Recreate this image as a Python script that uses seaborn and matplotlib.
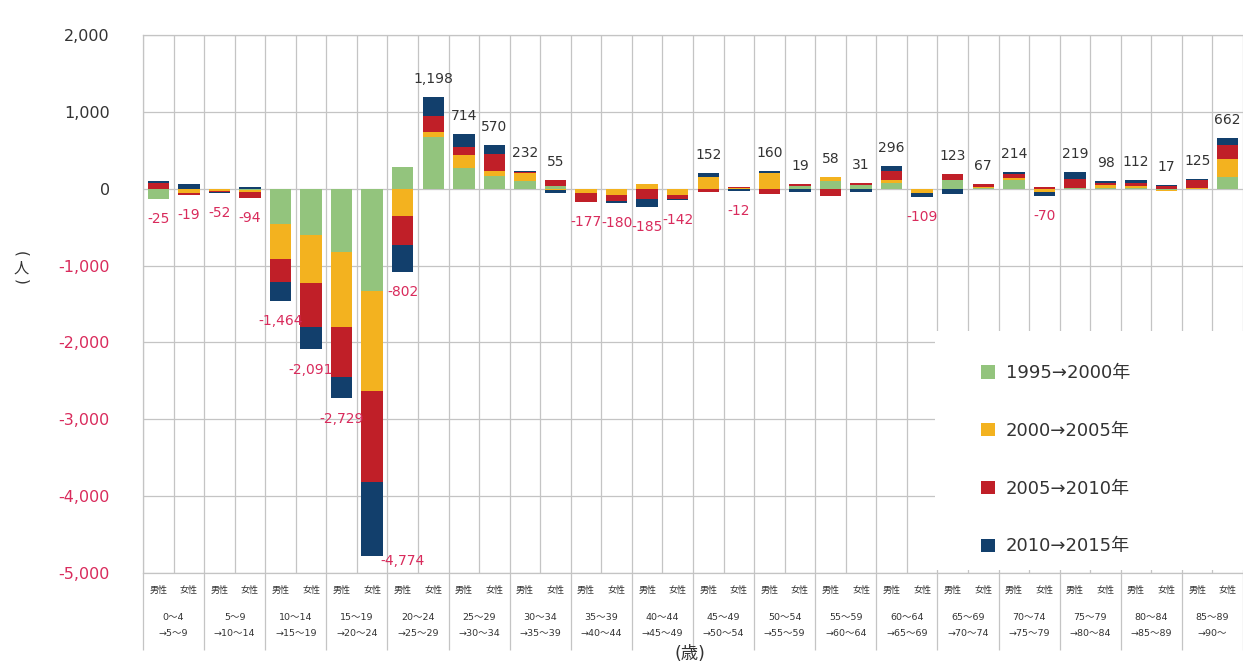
import numpy as np
import pandas as pd
import matplotlib
matplotlib.use("Agg")
import matplotlib.pyplot as plt
import seaborn as sns
from matplotlib.patches import Patch, Rectangle

# ---------------- data ----------------
age_from = ["0～4", "5～9", "10～14", "15～19", "20～24", "25～29", "30～34", "35～39", "40～44",
            "45～49", "50～54", "55～59", "60～64", "65～69", "70～74", "75～79", "80～84", "85～89"]
age_to = ["→5～9", "→10～14", "→15～19", "→20～24", "→25～29", "→30～34", "→35～39", "→40～44", "→45～49",
          "→50～54", "→55～59", "→60～64", "→65～69", "→70～74", "→75～79", "→80～84", "→85～89", "→90～"]
sexes = ["男性", "女性"]
series_names = ["1995→2000年", "2000→2005年", "2005→2010年", "2010→2015年"]

# values per bar (male, female alternating, by age group)
v1995 = [-130, -4, -7, -11, -460, -600, -820, -1325, 280, 675, 265, 165, 105, 30, -5, -2, 0, -5,
         0, -5, -10, 40, 95, 48, 69, -5, 110, 10, 113, -10, 5, 10, 5, -18, 0, 155]
v2000 = [0, -55, -20, -30, -460, -630, -975, -1310, -355, 65, 172, 65, 95, -15, -45, -74, 56, -78,
         156, 12, 210, 0, 58, 0, 43, -50, 0, 15, 32, -38, 5, 40, 30, -17, 10, 228]
v2005 = [80, -20, -10, -78, -300, -565, -650, -1175, -375, 205, 100, 220, 12, 80, -120, -82, -139, -52,
         -47, 8, -62, 20, -95, 22, 120, -4, 82, 42, 43, 20, 112, 30, 43, 40, 98, 180]
v2010 = [25, 60, -15, 25, -244, -296, -284, -964, -352, 253, 177, 120, 20, -40, -7, -22, -102, -7,
         43, -27, 22, -41, 0, -39, 64, -50, -69, 0, 26, -42, 97, 18, 34, 12, 17, 99]

colors = ["#93c47d", "#f3b21f", "#c01f28", "#123f6c"]
neg_color = "#d92b5c"
grid_color = "#c4c4c4"

# ---------------- style ----------------
sns.set_theme(style="white")
plt.rcParams["font.family"] = ["DejaVu Sans", "Noto Sans CJK JP"]

fig = plt.figure(figsize=(12.43, 6.63), dpi=100)
ax = fig.add_axes([143 / 1243, 1 - 573 / 663, 1100 / 1243, (573 - 35) / 663])

bar_ids = [f"{a}{s}" for a in age_from for s in sexes]
series_vals = [v1995, v2000, v2005, v2010]

pos_base = np.zeros(len(bar_ids))
neg_base = np.zeros(len(bar_ids))
for name, vals, col in zip(series_names, series_vals, colors):
    vals = np.asarray(vals, dtype=float)
    bottom = np.where(vals >= 0, pos_base, neg_base)
    sns.barplot(x=bar_ids, y=vals, order=bar_ids, color=col, saturation=1,
                bottom=bottom, width=0.7, errorbar=None, ax=ax, zorder=3,
                linewidth=0)
    pos_base += np.clip(vals, 0, None)
    neg_base += np.clip(vals, None, 0)

totals = np.sum(np.array(series_vals, dtype=float), axis=0)

# ---------------- axes ----------------
ax.set_ylim(-5000, 2000)
ax.set_xlim(-0.5, len(bar_ids) - 0.5)
yt = np.arange(-5000, 2001, 1000)
ax.set_yticks(yt)
ax.set_yticklabels([f"{int(v):,}" for v in yt], fontsize=11.5)
for lab, v in zip(ax.get_yticklabels(), yt):
    lab.set_color(neg_color if v < 0 else "#333333")
ax.set_xticks(np.arange(-0.5, len(bar_ids), 1))
ax.set_xticklabels([])
ax.tick_params(axis="both", length=0)
ax.tick_params(axis="y", pad=24)
ax.set_xlabel("")
ax.set_ylabel("")
ax.set_axisbelow(True)
ax.grid(True, axis="both", color=grid_color, linewidth=0.9)
for sp in ax.spines.values():
    sp.set_color(grid_color)
    sp.set_linewidth(0.9)
ax.spines["right"].set_visible(False)

# ---------------- total labels ----------------
unit_per_px = 7000 / 538
for i, t in enumerate(totals):
    txt = f"{int(round(t)):,}"
    if t >= 0:
        ax.annotate(txt, (i, pos_base[i]), xytext=(0, 13), textcoords="offset points",
                    ha="center", va="center", fontsize=10, color="#333333", zorder=5)
    else:
        if neg_base[i] - 20 * unit_per_px < -5000:
            ax.annotate(txt, (i, neg_base[i]), xytext=(22, -4), textcoords="offset points",
                        ha="center", va="center", fontsize=10, color=neg_color, zorder=5)
        else:
            ax.annotate(txt, (i, neg_base[i]), xytext=(0, -14.5), textcoords="offset points",
                        ha="center", va="center", fontsize=10, color=neg_color, zorder=5)

# ---------------- category table below ----------------
xtr = ax.get_xaxis_transform()
for i, s in enumerate(bar_ids):
    ax.text(i, -0.032, sexes[i % 2], transform=xtr, ha="center", va="center",
            fontsize=6.5, color="#333333")
for g in range(len(age_from)):
    c = 2 * g + 0.5
    ax.text(c, -0.082, age_from[g], transform=xtr, ha="center", va="center",
            fontsize=6.8, color="#333333")
    ax.text(c, -0.112, age_to[g], transform=xtr, ha="center", va="center",
            fontsize=6.8, color="#333333")
bounds = np.arange(-0.5, len(bar_ids), 2)
ax.vlines(bounds, -0.143, 0, transform=xtr, clip_on=False, color=grid_color, linewidth=0.9)

fig.text(690 / 1243, 1 - 654 / 663, "(歳)", ha="center", va="center", fontsize=12.5, color="#333333")
# vertical y-axis unit label: rotated parentheses with upright character
fig.text(21 / 1243, 1 - 254 / 663, "(", rotation=270, ha="center", va="center", fontsize=11,
         color="#333333")
fig.text(21 / 1243, 1 - 268 / 663, "人", ha="center", va="center", fontsize=11,
         color="#333333")
fig.text(21 / 1243, 1 - 282 / 663, ")", rotation=270, ha="center", va="center", fontsize=11,
         color="#333333")

# ---------------- legend ----------------
ax.add_patch(Rectangle((0.72, 0.006), 0.28, 0.444, transform=ax.transAxes,
                       facecolor="white", edgecolor="none", zorder=2))
handles = [Patch(facecolor=c, edgecolor="none") for c in colors]
leg = ax.legend(handles, series_names, loc="upper left", bbox_to_anchor=(0.762, 0.388),
                frameon=False, fontsize=13, handlelength=0.75, handleheight=0.75,
                handletextpad=0.6, labelspacing=2.2, borderpad=0, borderaxespad=0)
leg.set_zorder(6)
for t in leg.get_texts():
    t.set_color("#333333")

fig.savefig("out.png", dpi=100)
